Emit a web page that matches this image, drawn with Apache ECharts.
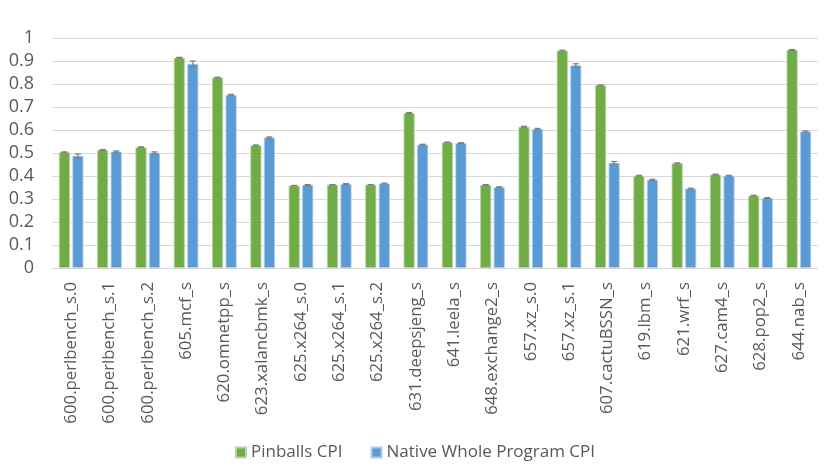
<!DOCTYPE html>
<html><head><meta charset="utf-8">
<script src="https://cdn.jsdelivr.net/npm/echarts@6/dist/echarts.min.js"></script>
<style>html,body{margin:0;padding:0;background:#fff}#c{width:830px;height:475px}</style>
</head><body><div id="c"></div>
<script>
var categories = ["600.perlbench_s.0","600.perlbench_s.1","600.perlbench_s.2","605.mcf_s","620.omnetpp_s","623.xalancbmk_s","625.x264_s.0","625.x264_s.1","625.x264_s.2","631.deepsjeng_s","641.leela_s","648.exchange2_s","657.xz_s.0","657.xz_s.1","607.cactuBSSN_s","619.lbm_s","621.wrf_s","627.cam4_s","628.pop2_s","644.nab_s"];
var pinballs = [0.503,0.513,0.525,0.914,0.828,0.533,0.358,0.362,0.362,0.674,0.546,0.361,0.614,0.945,0.794,0.401,0.455,0.406,0.314,0.948];
var native = [0.488,0.506,0.501,0.888,0.752,0.567,0.361,0.365,0.367,0.536,0.543,0.351,0.604,0.881,0.457,0.383,0.345,0.401,0.304,0.593];
var pinballsErr = [0.002,0.002,0.002,0.002,0.002,0.002,0.001,0.001,0.001,0.002,0.002,0.002,0.002,0.002,0.002,0.002,0.002,0.002,0.002,0.002];
var nativeErr = [0.008,0.003,0.004,0.012,0.003,0.003,0.002,0.002,0.002,0.002,0.002,0.002,0.003,0.007,0.006,0.003,0.002,0.002,0.002,0.003];
var yTicks = [0,0.1,0.2,0.3,0.4,0.5,0.6,0.7,0.8,0.9,1];

var BW = 11, GAP = 2.5;
function errData(vals, errs){ return vals.map(function(v,i){ return [i, v, errs[i]]; }); }
function errRender(offset){
  return function(params, api){
    var i = api.value(0), v = api.value(1), e = api.value(2);
    var hi = api.coord([i, v+e]), lo = api.coord([i, v-e]);
    var x = hi[0] + offset;
    var st = {stroke:'#7f7f7f', lineWidth:1.2};
    return {type:'group', children:[
      {type:'line', shape:{x1:x,y1:hi[1],x2:x,y2:lo[1]}, style:st},
      {type:'line', shape:{x1:x-3,y1:hi[1],x2:x+3,y2:hi[1]}, style:st},
      {type:'line', shape:{x1:x-3,y1:lo[1],x2:x+3,y2:lo[1]}, style:st}
    ]};
  };
}
var off = (BW+GAP)/2;
var chart = echarts.init(document.getElementById('c'));
var fontF = '"Open Sans", "Liberation Sans", Arial, sans-serif';
chart.setOption({
  animation:false,
  grid:{left:52,right:12,top:38,bottom:207},
  legend:{bottom:9,left:'center',itemWidth:10,itemHeight:10,itemGap:28,icon:'rect',
    textStyle:{color:'#595959',fontSize:17,fontFamily:fontF},
    data:['Pinballs CPI','Native Whole Program CPI']},
  xAxis:{type:'category',data:categories,
    axisLine:{lineStyle:{color:'#d9d9d9'}},axisTick:{show:false},
    axisLabel:{rotate:90,interval:0,color:'#595959',fontSize:16.8,fontFamily:fontF,margin:14}},
  yAxis:{type:'value',min:0,max:1,interval:0.1,
    axisLine:{show:false},axisTick:{show:false},
    splitLine:{lineStyle:{color:'#d9d9d9',width:1}},
    axisLabel:{color:'#595959',fontSize:18,fontFamily:fontF,margin:18,
      formatter:function(v){ var t = yTicks.filter(function(k){return Math.abs(k-v)<1e-6;}); return t.length? String(+v.toFixed(1)) : ''; }}},
  series:[
    {name:'Pinballs CPI',type:'bar',data:pinballs,barWidth:BW,barGap:'23%',
      itemStyle:{color:'#70ad47',borderColor:'#b5d6a0',borderWidth:0.8}},
    {name:'Native Whole Program CPI',type:'bar',data:native,barWidth:BW,
      itemStyle:{color:'#5b9bd5',borderColor:'#acccea',borderWidth:0.8}},
    {type:'custom',renderItem:errRender(-off),data:errData(pinballs,pinballsErr),z:10,silent:true},
    {type:'custom',renderItem:errRender(off),data:errData(native,nativeErr),z:10,silent:true}
  ]
});
</script></body></html>
